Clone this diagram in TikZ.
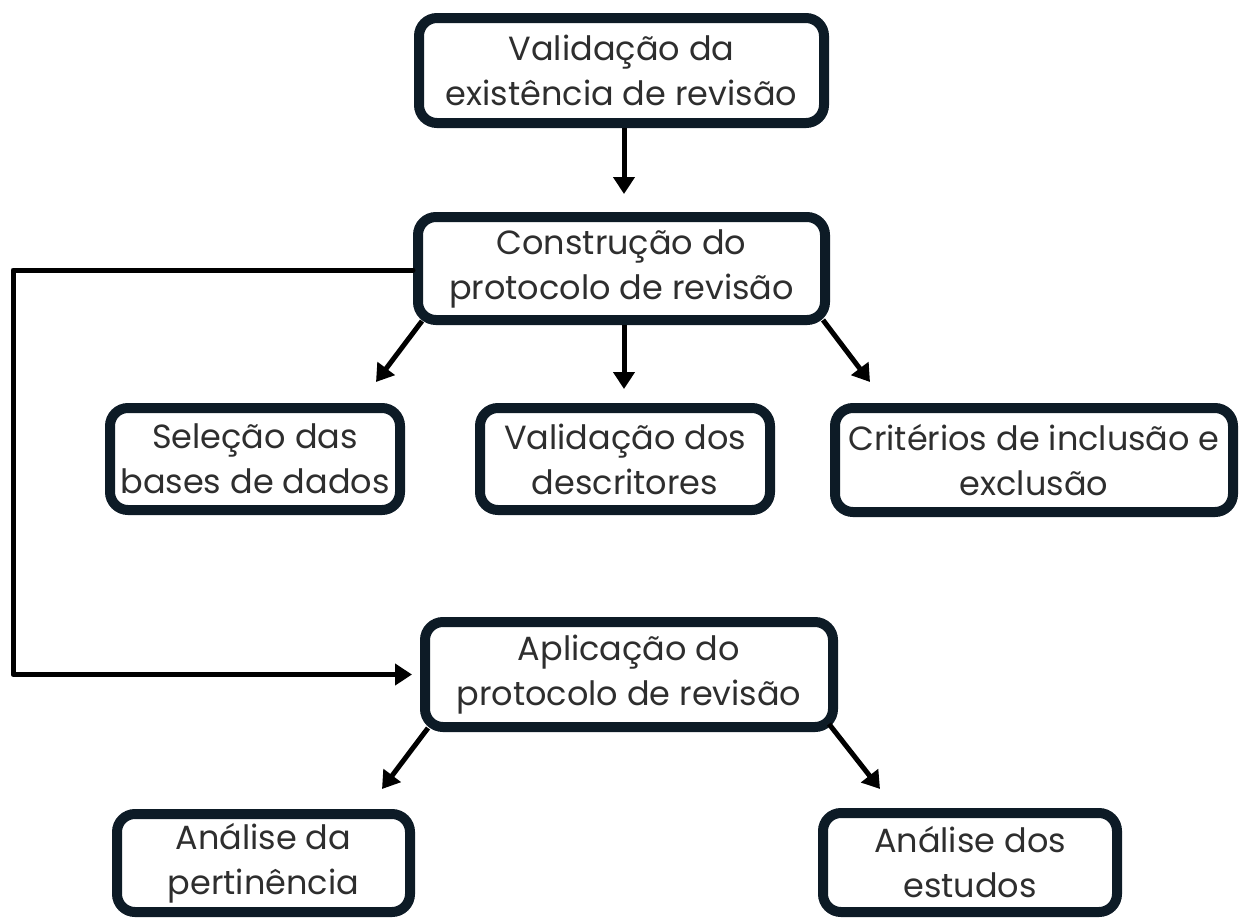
\documentclass[tikz,border=0pt]{standalone}
\usepackage{fontspec}
\setmainfont{Poppins}
\usetikzlibrary{arrows.meta,calc}
\definecolor{boxline}{HTML}{0D1B26}
\definecolor{txt}{HTML}{2E2E2E}
\tikzset{
  box/.style={draw=boxline, line width=10pt, rounded corners=18pt, fill=white,
    align=center, text=txt, inner sep=0pt,
    font=\fontsize{33.5}{45}\selectfont},
  arr/.style={draw=black, line width=5pt, -{Triangle[length=17pt,width=21pt]}},
  link/.style={draw=black, line width=5pt, line cap=round, line join=round}
}
\begin{document}
\begin{tikzpicture}[x=1pt,y=-1pt]
\useasboundingbox (0,0) rectangle (1239,919);
\node[box, minimum width=405pt, minimum height=105pt] (b1) at (621.5,70.5) {Validação da\\existência de revisão};
\node[box, minimum width=407pt, minimum height=103pt] (b2) at (621.5,268.5) {Construção do\\protocolo de revisão};
\node[box, minimum width=290pt, minimum height=102pt] (sel) at (255,459) {Seleção das\\bases de dados};
\node[box, minimum width=290pt, minimum height=102pt] (vd) at (625,459) {Validação dos\\descritores};
\node[box, minimum width=398pt, minimum height=104pt] (cr) at (1034,460) {Critérios de inclusão e\\exclusão};
\node[box, minimum width=408pt, minimum height=105pt] (b3) at (629,674.5) {Aplicação do\\protocolo de revisão};
\node[box, minimum width=293pt, minimum height=98pt] (ap) at (263.5,863) {Análise da\\pertinência};
\node[box, minimum width=294pt, minimum height=99pt] (ae) at (970,862.5) {Análise dos\\estudos};

\coordinate (t1) at (624,194);
\coordinate (t2l) at (376,382);
\coordinate (t2m) at (624,389);
\coordinate (t2r) at (870,382);
\coordinate (t3l) at (382,789);
\coordinate (t3r) at (880,789);
\coordinate (lc) at (13,270);

\draw[arr] (b1.south -| t1) -- (t1);
\draw[arr] (b2.south -| t2m) -- (t2m);
\draw[arr] ([shift={(9,-4)}]b2.south west) -- (t2l);
\draw[arr] ([shift={(-7,-5)}]b2.south east) -- (t2r);
\draw[arr] ([shift={(8,-4)}]b3.south west) -- (t3l);
\draw[arr] ([shift={(-9,-8)}]b3.south east) -- (t3r);
\draw[link] (b2.west |- lc) -- (lc) -- (lc |- b3.west) -- ++(150,0);
\draw[arr] (lc |- b3.west) -- ([xshift=-8pt]b3.west);
\end{tikzpicture}
\end{document}
